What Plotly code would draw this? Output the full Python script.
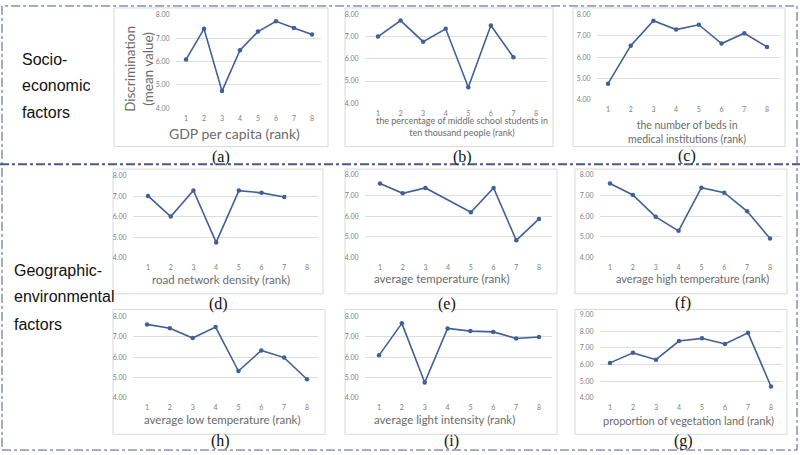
import plotly.graph_objects as go

W, H = 800, 455

ranks = [1, 2, 3, 4, 5, 6, 7, 8]
rank_labels = ["1", "2", "3", "4", "5", "6", "7", "8"]

gdp = [6.08, 7.40, 4.73, 6.48, 7.28, 7.72, 7.44, 7.16]
middle_school = [7.00, 7.72, 6.77, 7.35, 4.72, 7.50, 6.07, None]
hospital_beds = [4.74, 6.54, 7.72, 7.30, 7.53, 6.64, 7.13, 6.48]
road_density = [7.02, 6.01, 7.29, 4.74, 7.28, 7.17, 6.97, None]
avg_temp = [7.59, 7.11, 7.37, None, 6.19, 7.37, 4.83, 5.87]
avg_high_temp = [7.59, 7.03, 5.97, 5.29, 7.38, 7.14, 6.24, 4.92]
avg_low_temp = [7.61, 7.42, 6.94, 7.48, 5.32, 6.33, 5.98, 4.92]
light_intensity = [6.09, 7.66, 4.76, 7.41, 7.28, 7.24, 6.92, 6.99]
vegetation = [6.10, 6.70, 6.29, 7.41, 7.57, 7.23, 7.90, 4.69]

x_titles = [
    "GDP per capita (rank)",
    "the percentage of middle school students in<br>ten thousand people (rank)",
    "the number of beds in<br>medical institutions (rank)",
    "road network density (rank)",
    "average temperature (rank)",
    "average high temperature (rank)",
    "average low temperature (rank)",
    "average light intensity (rank)",
    "proportion of vegetation land (rank)",
]
panel_letters = ["(a)", "(b)", "(c)", "(d)", "(e)", "(f)", "(h)", "(i)", "(g)"]
series = [gdp, middle_school, hospital_beds, road_density, avg_temp,
          avg_high_temp, avg_low_temp, light_intensity, vegetation]
y_ranges = [(4, 8)] * 8 + [(4, 9)]

# layout geometry (pixels)
geo = [
    dict(gx=(176, 321), c=(186, 312), yp=(10, 105), box=(114, 328, 3, 144), tx=234, ty=131, ts=14, lx=221, ly=155),
    dict(gx=(365, 547), c=(378, 536), yp=(9.5, 100), box=(345, 553, 3, 144), tx=462, ty=124, ts=9, lx=462, ly=155),
    dict(gx=(597, 780), c=(608, 767), yp=(10, 96), box=(573, 785, 3, 144), tx=687, ty=129, ts=10.5, lx=687, ly=154),
    dict(gx=(133, 318), c=(148, 307), yp=(174, 257), box=(113, 323, 167, 294), tx=221, ty=279, ts=11.5, lx=218, ly=304),
    dict(gx=(365, 552), c=(380, 539), yp=(173, 257), box=(345, 557, 167, 294), tx=442, ty=278, ts=11.5, lx=447, ly=304),
    dict(gx=(600, 782), c=(610, 770), yp=(173, 257), box=(575, 787, 167, 294), tx=692, ty=278, ts=11, lx=683, ly=303),
    dict(gx=(133, 318), c=(147, 307), yp=(317, 400), box=(113, 325, 310, 437), tx=222, ty=422, ts=11.5, lx=220, ly=444),
    dict(gx=(365, 552), c=(379, 539), yp=(317, 400), box=(345, 557, 310, 437), tx=444, ty=422, ts=11.5, lx=452, ly=444),
    dict(gx=(600, 782), c=(610, 771), yp=(315, 400), box=(575, 787, 310, 437), tx=688, ty=423, ts=11, lx=683, ly=444),
]

LINE = "#41609a"
GRID = "#dedede"
TICK = "#808080"
TITLE = "#6b6b6b"
FONT = "Lato, Noto Sans, sans-serif"

fig = go.Figure()
shapes = []
annotations = []


def px_x(x):
    return x / W


def px_y(y):
    return 1 - y / H


for i, (vals, g, yr) in enumerate(zip(series, geo, y_ranges)):
    n = i + 1
    xa = "x" if n == 1 else f"x{n}"
    ya = "y" if n == 1 else f"y{n}"
    fig.add_trace(go.Scatter(
        x=ranks, y=vals, xaxis=xa, yaxis=ya, mode="lines+markers",
        connectgaps=True, line=dict(color=LINE, width=1.6),
        marker=dict(color=LINE, size=4.5), showlegend=False, hoverinfo="skip"))
    gx0, gx1 = g["gx"]
    c1, c8 = g["c"]
    s = (c8 - c1) / 7
    r0 = 1 - (c1 - gx0) / s
    r1 = 8 + (gx1 - c8) / s
    ytop, ybot = g["yp"]
    xkey = "xaxis" if n == 1 else f"xaxis{n}"
    ykey = "yaxis" if n == 1 else f"yaxis{n}"
    fig.update_layout({
        xkey: dict(domain=[px_x(gx0), px_x(gx1)], range=[r0, r1], anchor=ya,
                   tickvals=ranks, ticktext=rank_labels, showgrid=False, zeroline=False,
                   showline=False, ticks="outside", ticklen=3, tickcolor="rgba(0,0,0,0)",
                   tickfont=dict(size=7, color=TICK, family=FONT), fixedrange=True),
        ykey: dict(domain=[px_y(ybot), px_y(ytop)], range=list(yr), anchor=xa,
                   tickvals=list(range(yr[0], yr[1] + 1)), tickformat=".2f",
                   showgrid=True, gridcolor=GRID, gridwidth=1, zeroline=False,
                   showline=False, ticks="outside", ticklen=4, tickcolor="rgba(0,0,0,0)",
                   tickfont=dict(size=7, color=TICK, family=FONT), fixedrange=True),
    })
    bx0, bx1, by0, by1 = g["box"]
    shapes.append(dict(type="rect", xref="paper", yref="paper",
                       x0=px_x(bx0), x1=px_x(bx1), y0=px_y(by1), y1=px_y(by0),
                       line=dict(color="#d9d9d9", width=1), layer="below"))
    annotations.append(dict(text=x_titles[i], xref="paper", yref="paper",
                            x=px_x(g["tx"]), y=px_y(g["ty"]), xanchor="center", yanchor="middle",
                            showarrow=False, font=dict(size=g["ts"], color=TITLE, family=FONT)))
    annotations.append(dict(text=panel_letters[i], xref="paper", yref="paper",
                            x=px_x(g["lx"]), y=px_y(g["ly"]), xanchor="center", yanchor="middle",
                            showarrow=False, font=dict(size=16, color="#111111",
                                                       family="Liberation Serif, serif")))

# y axis title of panel (a)
annotations.append(dict(text="Discrimination<br>(mean value)", xref="paper", yref="paper",
                        x=px_x(139), y=px_y(65), xanchor="center", yanchor="middle",
                        textangle=-90, showarrow=False,
                        font=dict(size=13.5, color=TITLE, family=FONT)))

# group labels
for txt, x, y in [("Socio-", 20, 55), ("economic", 20, 82), ("factors", 20, 109),
                  ("Geographic-", 12, 270), ("environmental", 12, 297), ("factors", 12, 325)]:
    annotations.append(dict(text=txt, xref="paper", yref="paper", x=px_x(x), y=px_y(y),
                            xanchor="left", yanchor="middle", showarrow=False,
                            font=dict(size=16, color="#111111",
                                      family="Liberation Sans, Arial, sans-serif")))

# outer dashed border and separator
BORDER = "#4a5a88"
shapes.append(dict(type="rect", xref="paper", yref="paper",
                   x0=px_x(2), x1=px_x(797), y0=px_y(453), y1=px_y(1),
                   line=dict(color=BORDER, width=1, dash="dashdot")))
shapes.append(dict(type="line", xref="paper", yref="paper",
                   x0=px_x(0), x1=px_x(800), y0=px_y(162), y1=px_y(162),
                   line=dict(color=BORDER, width=2, dash="dashdot")))

fig.update_layout(width=W, height=H, margin=dict(l=0, r=0, t=0, b=0),
                  paper_bgcolor="white", plot_bgcolor="white",
                  shapes=shapes, annotations=annotations,
                  font=dict(family=FONT))

fig.write_html("out.html", config={"displayModeBar": False},
               post_script="document.body.style.margin='0px';document.body.style.overflow='hidden';")
